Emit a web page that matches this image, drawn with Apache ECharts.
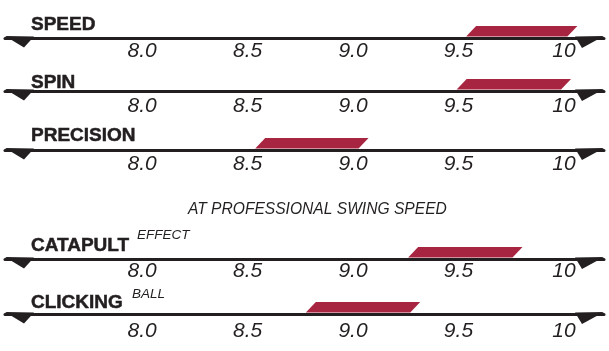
<!DOCTYPE html>
<html>
<head>
<meta charset="utf-8">
<script src="https://cdn.jsdelivr.net/npm/echarts@6/dist/echarts.min.js"></script>
<style>
  html, body { margin: 0; padding: 0; background: #fff; }
  #chart { width: 609px; height: 351px; }
</style>
</head>
<body>
<div id="chart"></div>
<script>
// ratings (start / end of each red band)
var categories = ['SPEED', 'SPIN', 'PRECISION', 'CATAPULT', 'CLICKING'];
var superscripts = ['', '', '', 'EFFECT', 'BALL'];
var rangeStart = [9.56, 9.515, 8.56, 9.285, 8.80];
var rangeEnd = [10.04, 10.01, 9.05, 9.78, 9.295];
var tickValues = [8.0, 8.5, 9.0, 9.5, 10];
var tickLabels = ['8.0', '8.5', '9.0', '9.5', '10'];
var note = 'AT PROFESSIONAL SWING SPEED';

// layout
var lineY = [38, 91, 150, 259, 314];
var titleTop = [15, 73, 126, 236, 293];
var supLeft = [0, 0, 0, 137, 132];
var supTop = [0, 0, 0, 228, 287];
var labelMargin = [3, 5, 4, 2, 7];
var X_MIN = 7.35, X_MAX = 10.19;
var INK = '#231f20';
var RED = '#a82541';
var FONT = '"Liberation Sans", Arial, sans-serif';

var chartDom = document.getElementById('chart');
var myChart = echarts.init(chartDom, null, { renderer: 'canvas' });

function renderItem(params, api) {
    var a = api.coord([api.value(0), 0]);
    var b = api.coord([api.value(1), 0]);
    var l = api.coord([X_MIN, 0]);
    var r = api.coord([X_MAX, 0]);
    var y = a[1] - 1.5;
    var h = 10.5, s = 5;
    return {
        type: 'group',
        children: [
            {
                type: 'polygon',
                shape: { points: [[a[0] - s, y], [b[0] - s, y], [b[0] + s, y - h], [a[0] + s, y - h]] },
                style: { fill: RED }
            },
            {
                type: 'polygon',
                shape: { points: [[l[0], y - 0.5], [l[0] + 29, y], [l[0] + 19, y + 11]] },
                style: { fill: INK }
            },
            {
                type: 'polygon',
                shape: { points: [[r[0] - 29, y], [r[0], y - 0.5], [r[0] - 22, y + 11.5]] },
                style: { fill: INK }
            }
        ]
    };
}

var grids = [], xAxes = [], yAxes = [], series = [], titles = [];
for (var i = 0; i < categories.length; i++) {
    grids.push({ left: 5, width: 599, top: lineY[i] - 20, height: 20 });
    xAxes.push({
        type: 'value',
        gridIndex: i,
        min: X_MIN,
        max: X_MAX,
        axisLine: { show: true, lineStyle: { color: INK, width: 3 } },
        axisTick: { show: false },
        splitLine: { show: false },
        axisLabel: {
            customValues: tickValues,
            margin: labelMargin[i],
            color: INK,
            fontSize: 21,
            fontStyle: 'italic',
            fontFamily: FONT,
            formatter: function (v) {
                var k = tickValues.indexOf(v);
                return k >= 0 ? tickLabels[k] : '';
            }
        }
    });
    yAxes.push({ type: 'value', gridIndex: i, min: 0, max: 1, show: false });
    series.push({
        type: 'custom',
        xAxisIndex: i,
        yAxisIndex: i,
        renderItem: renderItem,
        encode: { x: [0, 1] },
        data: [[rangeStart[i], rangeEnd[i]]],
        silent: true
    });
    titles.push({
        text: categories[i],
        left: 31,
        top: titleTop[i],
        padding: 0,
        textStyle: { fontSize: 19, fontWeight: 'bold', fontFamily: FONT, color: INK, textBorderColor: INK, textBorderWidth: 0.5 }
    });
    if (superscripts[i]) {
        titles.push({
            text: superscripts[i],
            left: supLeft[i],
            top: supTop[i],
            padding: 0,
            textStyle: { fontSize: 13.5, fontWeight: 'normal', fontStyle: 'italic', fontFamily: FONT, color: INK }
        });
    }
}
titles.push({
    text: note,
    left: 188,
    top: 202,
    padding: 0,
    textStyle: { fontSize: 15.6, fontStyle: 'italic', fontWeight: 'normal', fontFamily: FONT, color: INK }
});

var option = {
    animation: false,
    backgroundColor: '#fff',
    title: titles,
    grid: grids,
    xAxis: xAxes,
    yAxis: yAxes,
    series: series
};
myChart.setOption(option);
</script>
</body>
</html>
